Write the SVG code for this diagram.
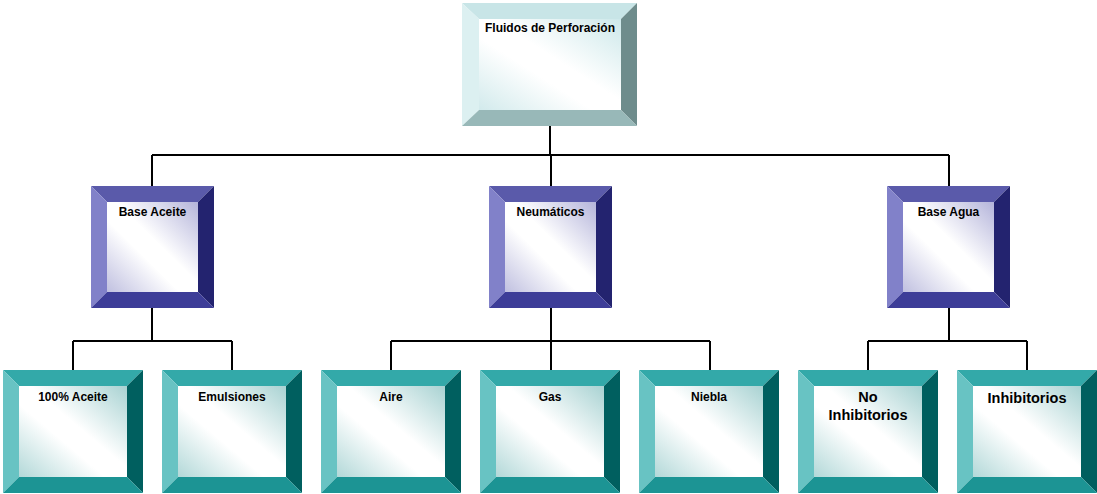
<svg xmlns="http://www.w3.org/2000/svg" width="1097" height="494" viewBox="0 0 1097 494">
  <defs>
    <linearGradient id="faceTop" x1="1" y1="0" x2="0" y2="1">
      <stop offset="0" stop-color="#cde8ea"/>
      <stop offset="0.45" stop-color="#ffffff"/>
      <stop offset="0.6" stop-color="#ffffff"/>
      <stop offset="1" stop-color="#d2eaec"/>
    </linearGradient>
    <linearGradient id="faceMid" x1="1" y1="0" x2="0" y2="1">
      <stop offset="0" stop-color="#b4b4da"/>
      <stop offset="0.45" stop-color="#ffffff"/>
      <stop offset="0.6" stop-color="#ffffff"/>
      <stop offset="1" stop-color="#c0c0e0"/>
    </linearGradient>
    <linearGradient id="faceLow" x1="1" y1="0" x2="0" y2="1">
      <stop offset="0" stop-color="#a8d2d2"/>
      <stop offset="0.45" stop-color="#ffffff"/>
      <stop offset="0.6" stop-color="#ffffff"/>
      <stop offset="1" stop-color="#b2d8d8"/>
    </linearGradient>
  </defs>
  <style>
    .wire { stroke: #000; stroke-width: 2; fill: none; }
    .lbl { font-family: "Liberation Sans", Arial, sans-serif; font-weight: bold; font-size: 12px; fill: #000; text-anchor: middle; }
    .lbl-lg { font-size: 14.5px; }
    /* top node bevel */
    .t-top { fill: #c8e5e7; } .t-left { fill: #dcf0f1; } .t-right { fill: #6e8c8c; } .t-bot { fill: #98b8b8; }
    /* middle node bevel */
    .m-top { fill: #5a5aaa; } .m-left { fill: #8181c9; } .m-right { fill: #23236f; } .m-bot { fill: #3d3d98; }
    /* lower node bevel */
    .l-top { fill: #33a9a9; } .l-left { fill: #68c3c3; } .l-right { fill: #005f5f; } .l-bot { fill: #1c9494; }
  </style>

  <g id="connectors">
    <path class="wire" d="M550 126 V155 M152 155 H949 M152 155 V186 M551 155 V186 M949 155 V186"/>
    <path class="wire" d="M152 308 V341 M73 341 H232 M73 341 V370 M232 341 V370"/>
    <path class="wire" d="M551 308 V341 M391 341 H710 M391 341 V370 M551 341 V370 M710 341 V370"/>
    <path class="wire" d="M949 308 V341 M868 341 H1027 M868 341 V370 M1027 341 V370"/>
  </g>

  <g id="fluidos-de-perforacion">
    <polygon class="t-top" points="462,3 637,3 621,19 479,19"/>
    <polygon class="t-left" points="462,3 479,19 479,110 462,126"/>
    <polygon class="t-right" points="637,3 637,126 621,110 621,19"/>
    <polygon class="t-bot" points="462,126 479,110 621,110 637,126"/>
    <rect x="479" y="19" width="142" height="91" fill="url(#faceTop)"/>
    <text class="lbl" x="550" y="32">Fluidos de Perforación</text>
  </g>

  <g id="base-aceite">
    <polygon class="m-top" points="91,186 214,186 198,202 107,202"/>
    <polygon class="m-left" points="91,186 107,202 107,292 91,308"/>
    <polygon class="m-right" points="214,186 214,308 198,292 198,202"/>
    <polygon class="m-bot" points="91,308 107,292 198,292 214,308"/>
    <rect x="107" y="202" width="91" height="90" fill="url(#faceMid)"/>
    <text class="lbl" x="152.5" y="216">Base Aceite</text>
  </g>

  <g id="neumaticos">
    <polygon class="m-top" points="489,186 612,186 596,202 505,202"/>
    <polygon class="m-left" points="489,186 505,202 505,292 489,308"/>
    <polygon class="m-right" points="612,186 612,308 596,292 596,202"/>
    <polygon class="m-bot" points="489,308 505,292 596,292 612,308"/>
    <rect x="505" y="202" width="91" height="90" fill="url(#faceMid)"/>
    <text class="lbl" x="550.5" y="216">Neumáticos</text>
  </g>

  <g id="base-agua">
    <polygon class="m-top" points="887,186 1010,186 994,202 903,202"/>
    <polygon class="m-left" points="887,186 903,202 903,292 887,308"/>
    <polygon class="m-right" points="1010,186 1010,308 994,292 994,202"/>
    <polygon class="m-bot" points="887,308 903,292 994,292 1010,308"/>
    <rect x="903" y="202" width="91" height="90" fill="url(#faceMid)"/>
    <text class="lbl" x="948.5" y="216">Base Agua</text>
  </g>

  <g id="aceite-100">
    <polygon class="l-top" points="3,370 143,370 127,386 19,386"/>
    <polygon class="l-left" points="3,370 19,386 19,477 3,493"/>
    <polygon class="l-right" points="143,370 143,493 127,477 127,386"/>
    <polygon class="l-bot" points="3,493 19,477 127,477 143,493"/>
    <rect x="19" y="386" width="108" height="91" fill="url(#faceLow)"/>
    <text class="lbl" x="73" y="401">100% Aceite</text>
  </g>

  <g id="emulsiones">
    <polygon class="l-top" points="162,370 302,370 286,386 178,386"/>
    <polygon class="l-left" points="162,370 178,386 178,477 162,493"/>
    <polygon class="l-right" points="302,370 302,493 286,477 286,386"/>
    <polygon class="l-bot" points="162,493 178,477 286,477 302,493"/>
    <rect x="178" y="386" width="108" height="91" fill="url(#faceLow)"/>
    <text class="lbl" x="232" y="401">Emulsiones</text>
  </g>

  <g id="aire">
    <polygon class="l-top" points="321,370 461,370 445,386 337,386"/>
    <polygon class="l-left" points="321,370 337,386 337,477 321,493"/>
    <polygon class="l-right" points="461,370 461,493 445,477 445,386"/>
    <polygon class="l-bot" points="321,493 337,477 445,477 461,493"/>
    <rect x="337" y="386" width="108" height="91" fill="url(#faceLow)"/>
    <text class="lbl" x="391" y="401">Aire</text>
  </g>

  <g id="gas">
    <polygon class="l-top" points="480,370 620,370 604,386 496,386"/>
    <polygon class="l-left" points="480,370 496,386 496,477 480,493"/>
    <polygon class="l-right" points="620,370 620,493 604,477 604,386"/>
    <polygon class="l-bot" points="480,493 496,477 604,477 620,493"/>
    <rect x="496" y="386" width="108" height="91" fill="url(#faceLow)"/>
    <text class="lbl" x="550" y="401">Gas</text>
  </g>

  <g id="niebla">
    <polygon class="l-top" points="639,370 779,370 763,386 655,386"/>
    <polygon class="l-left" points="639,370 655,386 655,477 639,493"/>
    <polygon class="l-right" points="779,370 779,493 763,477 763,386"/>
    <polygon class="l-bot" points="639,493 655,477 763,477 779,493"/>
    <rect x="655" y="386" width="108" height="91" fill="url(#faceLow)"/>
    <text class="lbl" x="709" y="401">Niebla</text>
  </g>

  <g id="no-inhibitorios">
    <polygon class="l-top" points="798,370 938,370 922,386 814,386"/>
    <polygon class="l-left" points="798,370 814,386 814,477 798,493"/>
    <polygon class="l-right" points="938,370 938,493 922,477 922,386"/>
    <polygon class="l-bot" points="798,493 814,477 922,477 938,493"/>
    <rect x="814" y="386" width="108" height="91" fill="url(#faceLow)"/>
    <text class="lbl lbl-lg" x="868" y="402">No</text>
    <text class="lbl lbl-lg" x="868" y="420">Inhibitorios</text>
  </g>

  <g id="inhibitorios">
    <polygon class="l-top" points="957,370 1097,370 1081,386 973,386"/>
    <polygon class="l-left" points="957,370 973,386 973,477 957,493"/>
    <polygon class="l-right" points="1097,370 1097,493 1081,477 1081,386"/>
    <polygon class="l-bot" points="957,493 973,477 1081,477 1097,493"/>
    <rect x="973" y="386" width="108" height="91" fill="url(#faceLow)"/>
    <text class="lbl lbl-lg" x="1027" y="403">Inhibitorios</text>
  </g>
</svg>
